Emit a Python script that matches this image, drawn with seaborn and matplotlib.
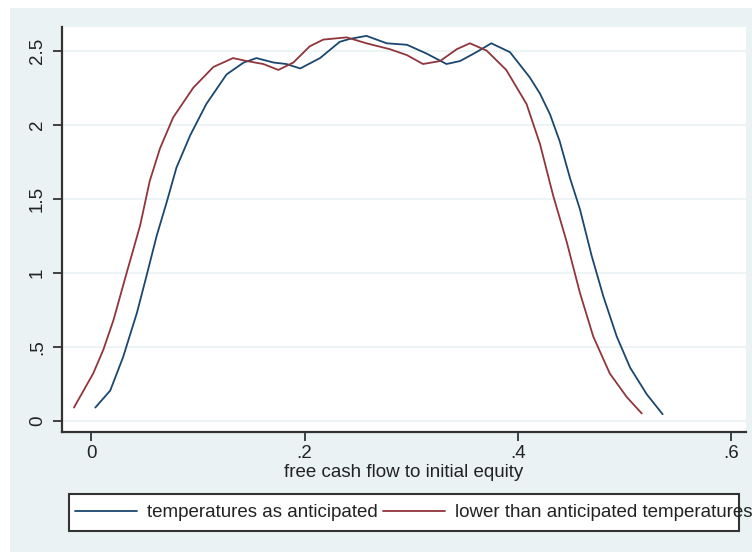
import matplotlib
matplotlib.use("Agg")
import matplotlib.pyplot as plt
import seaborn as sns
import numpy as np
import pandas as pd
from matplotlib.patches import Rectangle
from matplotlib.lines import Line2D

# ---- data ----
anticipated_x = [0.004, 0.018, 0.030, 0.043, 0.052, 0.0615, 0.071, 0.080, 0.093, 0.108,
                 0.127, 0.143, 0.155, 0.171, 0.183, 0.196, 0.2145, 0.233, 0.2426, 0.258,
                 0.277, 0.296, 0.3145, 0.333, 0.3457, 0.361, 0.375, 0.3925, 0.411, 0.4206,
                 0.430, 0.439, 0.4487, 0.458, 0.469, 0.480, 0.4925, 0.505, 0.5206, 0.5355]
anticipated_y = [0.09, 0.205, 0.43, 0.73, 0.98, 1.25, 1.48, 1.71, 1.93, 2.14,
                 2.34, 2.42, 2.45, 2.42, 2.41, 2.38, 2.45, 2.56, 2.58, 2.60,
                 2.55, 2.54, 2.48, 2.41, 2.43, 2.49, 2.55, 2.49, 2.32, 2.21,
                 2.07, 1.89, 1.64, 1.43, 1.115, 0.84, 0.57, 0.36, 0.18, 0.045]

lower_x = [-0.016, 0.002, 0.0115, 0.021, 0.0334, 0.046, 0.055, 0.0646, 0.077, 0.0958,
           0.1146, 0.133, 0.146, 0.1614, 0.1755, 0.1895, 0.205, 0.2176, 0.2395, 0.258,
           0.280, 0.296, 0.311, 0.327, 0.3426, 0.355, 0.3707, 0.389, 0.408, 0.4206,
           0.433, 0.4456, 0.458, 0.4705, 0.486, 0.502, 0.516]
lower_y = [0.09, 0.32, 0.48, 0.68, 1.0, 1.32, 1.62, 1.84, 2.05, 2.25,
           2.39, 2.45, 2.43, 2.41, 2.37, 2.42, 2.53, 2.575, 2.59, 2.55,
           2.51, 2.47, 2.41, 2.43, 2.51, 2.55, 2.50, 2.37, 2.14, 1.87,
           1.52, 1.21, 0.865, 0.57, 0.32, 0.16, 0.05]

series_labels = ["temperatures as anticipated", "lower than anticipated temperatures"]
x_ticks = [0, 0.2, 0.4, 0.6]
x_ticklabels = ["0", ".2", ".4", ".6"]
y_ticks = [0, 0.5, 1, 1.5, 2, 2.5]
y_ticklabels = ["0", ".5", "1", "1.5", "2", "2.5"]
x_label = "free cash flow to initial equity"

# ---- style ----
sns.set_style("white")
plt.rcParams["font.family"] = ["Liberation Sans", "DejaVu Sans"]
BG = "#EAF2F3"
NAVY = "#1a476f"
MAROON = "#90353b"
DARK = "#333333"
FS = 13.5

W, H = 752, 552
fig = plt.figure(figsize=(W / 100, H / 100), dpi=100)
fig.patch.set_facecolor("white")
fig.add_artist(Rectangle((10 / W, 0), 1 - 10 / W, 1 - 8 / H, transform=fig.transFigure,
                         facecolor=BG, edgecolor="none", zorder=-10))

ax = fig.add_axes([62 / W, 1 - 432 / H, (746 - 62) / W, (432 - 27) / H])
ax.set_facecolor("white")

sns.lineplot(x=anticipated_x, y=anticipated_y, ax=ax, color=NAVY, linewidth=1.3,
             sort=False, estimator=None)
sns.lineplot(x=lower_x, y=lower_y, ax=ax, color=MAROON, linewidth=1.3,
             sort=False, estimator=None)

ax.set_xlim(-0.0272, 0.6136)
ax.set_ylim(-0.075, 2.66)
ax.set_xticks(x_ticks)
ax.set_xticklabels(x_ticklabels, fontsize=FS)
ax.set_yticks(y_ticks)
ax.set_yticklabels(y_ticklabels, fontsize=FS, rotation=90, va="center")
ax.yaxis.grid(True, color=BG, linewidth=1.2)
ax.xaxis.grid(False)
ax.set_axisbelow(True)
for s in ["top", "right"]:
    ax.spines[s].set_visible(False)
for s in ["left", "bottom"]:
    ax.spines[s].set_color(DARK)
    ax.spines[s].set_linewidth(1.6)
ax.tick_params(axis="x", which="major", direction="out", length=6.5, width=1.3,
               color=DARK, labelcolor="#222222", bottom=True, pad=3)
ax.tick_params(axis="y", which="major", direction="out", length=6.5, width=1.3,
               color=DARK, labelcolor="#222222", left=True, pad=5)
ax.set_xlabel(x_label, fontsize=FS, color="#222222", labelpad=1)
ax.set_ylabel("")

# legend box
fig.add_artist(Rectangle((69 / W, 1 - 531 / H), (739 - 69) / W, (531 - 494) / H,
                         transform=fig.transFigure, facecolor="white", edgecolor=DARK,
                         linewidth=1.5, zorder=1))
handles = [Line2D([], [], color=NAVY, linewidth=1.3),
           Line2D([], [], color=MAROON, linewidth=1.3)]
leg = fig.legend(handles, series_labels, ncol=2, loc="center left",
                 bbox_to_anchor=(75 / W, 1 - 512.5 / H), frameon=False,
                 fontsize=FS, handlelength=3.3, handletextpad=0.53,
                 columnspacing=0.28, borderpad=0, borderaxespad=0)
leg.set_zorder(2)
for t in leg.get_texts():
    t.set_color("#222222")

fig.savefig("out.png", dpi=100)
